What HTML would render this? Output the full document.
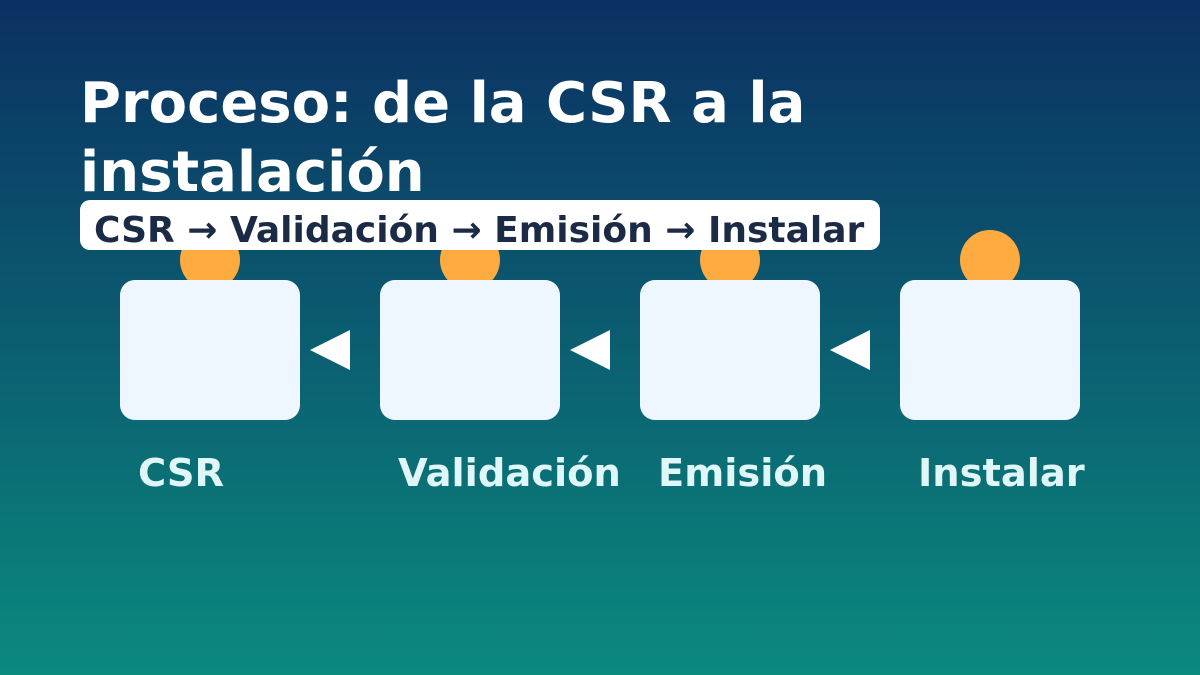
<!DOCTYPE html>
<html><head><meta charset="utf-8"><style>
html,body{margin:0;padding:0;}
body{width:1200px;height:675px;overflow:hidden;}
svg{display:block;}
text{font-family:"DejaVu Sans","Liberation Sans",sans-serif;font-weight:bold;}
</style></head><body>
<svg width="1200" height="675" viewBox="0 0 1200 675" xmlns="http://www.w3.org/2000/svg">
<defs><linearGradient id="g" x1="0" y1="0" x2="0" y2="1">
<stop offset="0" stop-color="#0b3062"/><stop offset="1" stop-color="#0b8a7e"/></linearGradient></defs>
<rect width="1200" height="675" fill="url(#g)"/>
<text x="80" y="122" font-size="56" fill="#fff">Proceso: de la CSR a la</text>
<text x="80" y="191" font-size="56" fill="#fff">instalación</text>
<g fill="#ffab40">
<circle cx="210" cy="260" r="30"/><circle cx="470" cy="260" r="30"/><circle cx="730" cy="260" r="30"/><circle cx="990" cy="260" r="30"/>
</g>
<rect x="80" y="200" width="800" height="50" rx="10" fill="#fff"/>
<text x="94" y="242" font-size="36" fill="#1b2a45">CSR → Validación → Emisión → Instalar</text>
<g fill="#eef7ff">
<rect x="120" y="280" width="180" height="140" rx="15"/>
<rect x="380" y="280" width="180" height="140" rx="15"/>
<rect x="640" y="280" width="180" height="140" rx="15"/>
<rect x="900" y="280" width="180" height="140" rx="15"/>
</g>
<g fill="#fff">
<polygon points="310,350 350,330 350,370"/>
<polygon points="570,350 610,330 610,370"/>
<polygon points="830,350 870,330 870,370"/>
</g>
<g font-size="38.4" fill="#e0f7fa">
<text x="138" y="486">CSR</text>
<text x="398" y="486">Validación</text>
<text x="658" y="486">Emisión</text>
<text x="918" y="486">Instalar</text>
</g>
</svg>
</body></html>
